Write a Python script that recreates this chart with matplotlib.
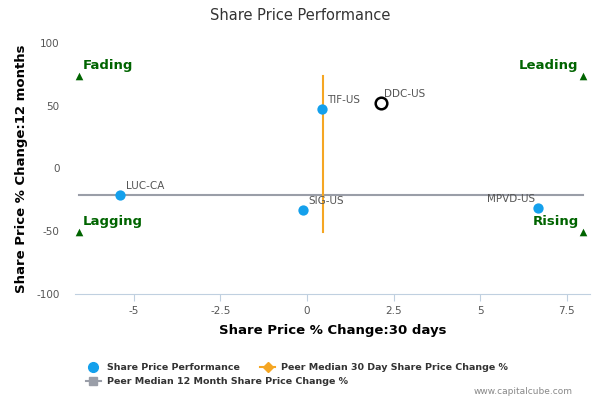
import matplotlib
matplotlib.use('Agg')
import matplotlib.pyplot as plt
from matplotlib.lines import Line2D

plt.rcParams['axes.unicode_minus'] = False

# data
tickers = ['LUC-CA', 'SIG-US', 'TIF-US', 'MPVD-US']
chg_30d = [-5.39, -0.12, 0.43, 6.66]
chg_12m = [-21.4, -33.3, 47.6, -31.7]

focus_ticker = 'DDC-US'
focus_30d = 2.13
focus_12m = 52.4

median_30d = 0.46
median_12m = -21.4

quad_x = [-6.58, 7.96]
quad_y = [-50.8, 73.8]
quad_names = ['Fading', 'Leading', 'Lagging', 'Rising']

x_ticks = [-5, -2.5, 0, 2.5, 5, 7.5]
y_ticks = [-100, -50, 0, 50, 100]

blue = '#14a0ec'
orange = '#f5a623'
grey = '#9a9ea8'
green = '#006400'
axis_col = '#c0d0e0'
label_col = '#555555'

fig = plt.figure(figsize=(6, 4), dpi=100)
ax = fig.add_axes([0.125, 0.265, 0.858, 0.6275])

# peer median lines
ax.plot(quad_x, [median_12m, median_12m], color=grey, lw=1.5, zorder=1)
ax.plot([median_30d, median_30d], quad_y, color=orange, lw=1.5, zorder=1)

ax.scatter(chg_30d, chg_12m, s=55, color=blue, zorder=3, linewidths=0)
ax.scatter([focus_30d], [focus_12m], s=70, facecolor='white', edgecolor='black',
           linewidths=1.8, zorder=3)

for t, x, y in zip(tickers, chg_30d, chg_12m):
    if t == 'MPVD-US':
        ax.annotate(t, (x, y), xytext=(-2, 3), textcoords='offset points',
                    ha='right', va='bottom', fontsize=7.5, color=label_col)
    else:
        ax.annotate(t, (x, y), xytext=(4, 3), textcoords='offset points',
                    ha='left', va='bottom', fontsize=7.5, color=label_col)
ax.annotate(focus_ticker, (focus_30d, focus_12m), xytext=(2, 3), textcoords='offset points',
            ha='left', va='bottom', fontsize=7.5, color=label_col)

# quadrant markers
corners = [(quad_x[0], quad_y[1]), (quad_x[1], quad_y[1]),
           (quad_x[0], quad_y[0]), (quad_x[1], quad_y[0])]
for name, (x, y) in zip(quad_names, corners):
    ax.scatter([x], [y], marker='^', s=30, color=green, zorder=3, linewidths=0)
    if x < 0:
        ax.annotate(name, (x, y), xytext=(3, 3), textcoords='offset points',
                    ha='left', va='bottom', fontsize=9.5, fontweight='bold', color=green)
    else:
        ax.annotate(name, (x, y), xytext=(-3, 3), textcoords='offset points',
                    ha='right', va='bottom', fontsize=9.5, fontweight='bold', color=green)

ax.set_xlim(-6.69, 8.16)
ax.set_ylim(-100, 100)
ax.set_xticks(x_ticks)
ax.set_xticklabels(['-5', '-2.5', '0', '2.5', '5', '7.5'])
ax.set_yticks(y_ticks)

for s in ['top', 'right', 'left']:
    ax.spines[s].set_visible(False)
ax.spines['bottom'].set_color(axis_col)
ax.tick_params(axis='x', colors=axis_col, length=5, labelcolor='#555555', labelsize=7.5)
ax.tick_params(axis='y', length=0, labelcolor='#555555', labelsize=7.5, pad=11)

ax.set_xlabel('Share Price % Change:30 days', fontsize=9.5, fontweight='bold', labelpad=6)
ax.set_ylabel('Share Price % Change:12 months', fontsize=9.5, fontweight='bold', labelpad=6)

fig.text(0.5, 0.96, 'Share Price Performance', ha='center', va='center',
         fontsize=10.5, color='#333333')

h_perf = Line2D([], [], marker='o', color=blue, ls='none', markersize=7)
h_30 = Line2D([], [], marker='D', color=orange, lw=1.5, markersize=5)
h_12 = Line2D([], [], marker='s', color=grey, lw=1.5, markersize=6)

leg1 = fig.legend([h_perf, h_30], ['Share Price Performance', 'Peer Median 30 Day Share Price Change %'],
                  loc='center left', bbox_to_anchor=(0.143, 0.08), ncol=2, frameon=False,
                  prop={'size': 6.8, 'weight': 'bold'}, handlelength=1.6, columnspacing=2.2,
                  handletextpad=0.6, borderpad=0, borderaxespad=0)
leg2 = fig.legend([h_12], ['Peer Median 12 Month Share Price Change %'],
                  loc='center left', bbox_to_anchor=(0.143, 0.045), frameon=False,
                  prop={'size': 6.8, 'weight': 'bold'}, handlelength=1.6,
                  handletextpad=0.6, borderpad=0, borderaxespad=0)
for leg in (leg1, leg2):
    for t in leg.get_texts():
        t.set_color('#333333')

fig.text(0.955, 0.01, 'www.capitalcube.com', ha='right', va='bottom', fontsize=6.5, color='#888888')

fig.savefig('out.png', dpi=100)
